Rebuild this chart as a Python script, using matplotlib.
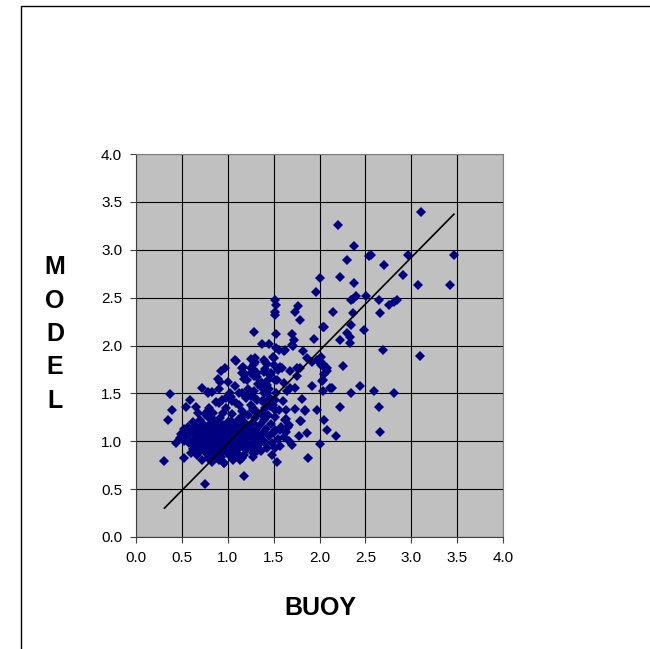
import matplotlib
matplotlib.use("Agg")
import matplotlib.pyplot as plt
from matplotlib.patches import Rectangle
import numpy as np

# scattered points (buoy, model) outside the main cloud
buoy_spread = [3.11, 2.20, 2.38, 2.54, 2.56, 2.96, 3.465, 2.30, 2.70, 2.91, 2.01, 2.22, 2.38, 3.07, 3.42,
               1.96, 2.34, 2.36, 2.40, 2.51, 2.65, 2.76, 2.81, 2.84, 2.66, 2.15, 2.37, 2.34, 2.48,
               1.52, 1.53, 1.52, 1.52, 1.77, 1.73, 1.79, 2.04, 2.05, 1.29, 1.53, 1.70, 1.72, 1.71, 1.94,
               2.22, 2.30, 2.33, 2.33, 1.37, 1.45, 1.53, 1.56, 1.61, 1.62, 1.82, 1.86, 1.92, 1.97, 2.02,
               2.04, 2.69, 3.09,
               1.08, 1.25, 1.30, 1.41, 1.40, 1.49, 1.50, 1.55, 1.57, 1.68, 1.75, 2.08, 2.05, 2.26, 0.97,
               0.93, 0.89, 1.00, 1.16, 1.19, 1.21, 1.28, 1.29, 1.37, 1.44, 1.61, 2.04, 1.92, 2.04, 2.11,
               2.14, 2.44, 2.59, 2.34, 2.81, 0.72, 0.78, 0.91, 0.37, 0.59, 0.55, 0.65, 0.39, 0.35, 1.81,
               1.64, 1.73, 1.97, 2.22, 2.65, 1.80, 2.05, 2.08, 2.18, 1.86, 1.78, 2.66, 2.01, 1.87, 1.54,
               1.18, 0.75, 0.31, 0.52, 0.44, 0.49]
model_spread = [3.39, 3.26, 3.04, 2.93, 2.95, 2.95, 2.95, 2.89, 2.84, 2.74, 2.70, 2.72, 2.65, 2.63, 2.63,
                2.56, 2.48, 2.49, 2.52, 2.52, 2.48, 2.42, 2.45, 2.48, 2.34, 2.35, 2.34, 2.21, 2.16,
                2.47, 2.42, 2.35, 2.32, 2.41, 2.35, 2.27, 2.19, 2.19, 2.14, 2.12, 2.12, 2.06, 2.00, 2.07,
                2.06, 2.13, 2.03, 2.09, 2.02, 2.02, 1.97, 1.95, 1.94, 1.95, 1.94, 1.87, 1.83, 1.85, 1.88,
                1.81, 1.95, 1.89,
                1.85, 1.86, 1.83, 1.83, 1.85, 1.88, 1.80, 1.74, 1.78, 1.73, 1.77, 1.76, 1.70, 1.79, 1.76,
                1.73, 1.65, 1.62, 1.77, 1.70, 1.64, 1.72, 1.68, 1.61, 1.64, 1.61, 1.64, 1.58, 1.53, 1.56,
                1.56, 1.58, 1.53, 1.50, 1.50, 1.56, 1.51, 1.55, 1.49, 1.43, 1.36, 1.36, 1.33, 1.22, 1.44,
                1.33, 1.34, 1.33, 1.36, 1.36, 1.21, 1.22, 1.12, 1.06, 1.09, 1.05, 1.10, 0.97, 0.82, 0.78,
                0.64, 0.55, 0.79, 0.83, 0.98, 1.08]

# points in the middle band between 1.0 and 2.1 m
buoy_mid = [1.09, 1.17, 1.25, 1.29, 1.43, 0.92, 1.08, 1.16, 1.18, 1.25, 1.32, 1.39, 1.47, 1.52, 0.79,
            0.83, 0.79, 0.87, 0.94, 1.03, 1.12, 1.21, 1.29, 1.36, 1.43, 0.52, 0.56, 0.48, 0.90, 0.96,
            1.70, 2.02, 2.06, 2.08, 1.30, 1.50, 1.41, 1.46, 1.59, 1.79, 1.75, 1.28, 1.32, 1.36, 1.43,
            1.54, 1.68, 1.73, 2.03, 1.25, 1.32, 1.39, 1.46, 1.52, 1.84, 1.28, 1.36, 1.43, 1.64, 1.67,
            1.79, 1.49, 1.57, 1.64, 1.61, 1.67, 1.51, 1.57, 1.34, 1.41, 1.32, 1.28, 1.13, 1.48, 1.70,
            1.66, 1.52, 1.52, 1.84]
model_mid = [1.84, 1.78, 1.76, 1.81, 1.81, 1.62, 1.58, 1.71, 1.65, 1.71, 1.67, 1.72, 1.71, 1.64, 1.50,
             1.51, 1.32, 1.41, 1.43, 1.46, 1.50, 1.48, 1.53, 1.57, 1.50, 1.13, 1.08, 1.03, 0.82, 0.77,
             2.01, 1.80, 1.76, 1.73, 1.87, 1.87, 1.75, 1.69, 1.76, 1.76, 1.68, 1.75, 1.71, 1.61, 1.59,
             1.64, 1.56, 1.56, 1.63, 1.47, 1.43, 1.42, 1.37, 1.43, 1.32, 1.33, 1.28, 1.26, 1.23, 1.17,
             1.21, 1.09, 1.12, 1.10, 1.04, 1.00, 0.93, 0.95, 1.02, 0.98, 0.90, 0.84, 0.80, 0.86, 0.96,
             1.15, 1.12, 1.33, 1.33]

# dense cloud around 1 m
buoy_core = [0.55, 0.58, 0.60, 0.62, 0.63, 0.65, 0.66, 0.67, 0.68, 0.69, 0.70, 0.71, 0.72, 0.72, 0.73,
             0.74, 0.75, 0.76, 0.77, 0.78, 0.78, 0.79, 0.80, 0.80, 0.81, 0.82, 0.83, 0.83, 0.84, 0.85,
             0.86, 0.86, 0.87, 0.88, 0.88, 0.89, 0.90, 0.90, 0.91, 0.92, 0.92, 0.93, 0.94, 0.94, 0.95,
             0.96, 0.96, 0.97, 0.98, 0.98, 0.99, 1.00, 1.00, 1.01, 1.02, 1.03, 1.04, 1.04, 1.05, 1.06,
             1.07, 1.08, 1.08, 1.09, 1.10, 1.10, 1.11, 1.12, 1.13, 1.14, 1.15, 1.15, 1.16, 1.17, 1.18,
             1.19, 1.20, 1.21, 1.22, 1.23, 1.24, 1.25, 1.26, 1.27, 1.28, 1.29, 1.30, 1.31, 1.32, 1.33,
             1.34, 1.35, 1.36, 1.37, 1.38, 1.39, 1.40, 1.41, 1.42, 1.43, 1.44, 1.45, 1.46, 1.47, 1.48,
             1.49, 1.50, 1.52, 1.53, 1.55, 1.56, 1.58, 1.60, 1.62, 1.65, 1.45, 1.40, 1.30, 1.20, 1.12,
             1.05, 0.95, 0.90, 0.85, 0.80, 0.75, 0.70, 0.68, 0.62, 0.57, 0.52, 0.50, 0.60, 0.64, 1.00,
             1.06, 1.12, 1.18, 1.26, 1.34, 1.38, 1.27, 1.18, 1.22, 1.33, 1.15, 1.02, 0.98, 0.93, 0.83,
             0.66, 0.70, 0.73, 0.76, 0.79, 0.82, 0.85, 0.88, 0.91, 0.94, 0.97, 1.00, 1.03, 1.06, 1.09,
             1.12, 1.15, 1.18, 1.21, 1.24, 0.68, 0.72, 0.75, 0.79, 0.83, 0.87, 0.91, 0.95, 0.99, 1.03,
             1.07, 1.11, 1.14, 1.17, 1.20, 0.74, 0.80, 0.86, 0.92, 0.98, 1.04, 1.10, 0.64, 0.58, 0.62]
model_core = [1.05, 0.98, 1.12, 0.92, 1.02, 1.08, 0.86, 1.15, 0.97, 1.04, 0.90, 1.10, 1.00, 0.80, 1.18,
              0.94, 1.06, 0.88, 1.12, 0.99, 1.25, 0.83, 1.05, 0.93, 1.18, 1.02, 0.90, 1.10, 1.30, 0.97,
              1.07, 0.85, 1.20, 1.00, 0.92, 1.13, 1.04, 0.80, 0.96, 1.24, 1.09, 0.88, 1.01, 1.16, 0.93,
              1.06, 0.77, 1.11, 0.98, 1.35, 0.90, 1.03, 1.20, 0.95, 1.08, 0.85, 1.14, 1.00, 1.28, 0.92,
              1.05, 1.18, 0.97, 1.40, 1.10, 0.88, 1.02, 1.23, 0.94, 1.15, 1.06, 0.82, 1.32, 0.99, 1.20,
              1.10, 0.91, 1.03, 1.27, 1.14, 0.96, 1.38, 1.08, 1.19, 0.88, 1.01, 1.24, 1.12, 0.95, 1.30,
              1.05, 1.17, 0.90, 1.42, 1.09, 1.22, 1.00, 1.35, 1.13, 0.93, 1.27, 1.05, 1.45, 1.18, 0.98,
              1.38, 1.10, 1.25, 1.50, 1.02, 1.33, 1.15, 1.42, 1.22, 1.52, 1.55, 1.50, 1.45, 1.45, 1.38,
              1.42, 1.30, 1.40, 1.22, 1.35, 1.28, 1.22, 1.30, 1.20, 1.15, 1.00, 1.05, 0.88, 0.95, 0.87,
              0.80, 0.96, 0.86, 0.93, 0.97, 1.28, 1.35, 1.28, 1.55, 1.60, 1.50, 1.50, 1.45, 0.84, 0.78,
              1.01, 1.07, 0.96, 1.03, 1.09, 0.97, 1.14, 1.06, 0.99, 1.05, 1.02, 0.96, 1.11, 1.00, 1.06,
              0.98, 1.09, 1.02, 0.95, 1.08, 0.93, 1.12, 0.90, 1.15, 0.87, 1.07, 0.89, 1.17, 0.92, 1.21,
              0.94, 1.13, 1.24, 0.99, 1.04, 1.08, 0.95, 1.03, 0.91, 1.16, 1.19, 0.86, 0.99, 1.08, 1.01]

# trendline coefficients
trend_slope = 0.973
trend_intercept = 0.0

x_ticks = [0.0, 0.5, 1.0, 1.5, 2.0, 2.5, 3.0, 3.5, 4.0]
y_ticks = [0.0, 0.5, 1.0, 1.5, 2.0, 2.5, 3.0, 3.5, 4.0]

buoy = np.array(buoy_spread + buoy_mid + buoy_core)
model = np.array(model_spread + model_mid + model_core)

plt.rcParams['font.family'] = ['Liberation Sans', 'DejaVu Sans']

fig = plt.figure(figsize=(6.5, 6.49), dpi=100)
fig.patch.set_facecolor('white')

# outer frame (top and left edges visible)
fig.patches.append(Rectangle((21 / 650, -0.1), 1.2, (649 - 6) / 649 + 0.1,
                             transform=fig.transFigure, fill=False,
                             edgecolor='black', linewidth=1.0))

ax = fig.add_axes([136 / 650, (649 - 537) / 649, 367 / 650, 383 / 649])
ax.set_facecolor('#c0c0c0')
ax.set_xlim(0, 4)
ax.set_ylim(0, 4)
ax.set_xticks(x_ticks)
ax.set_yticks(y_ticks)
ax.set_xticklabels([f"{t:.1f}" for t in x_ticks])
ax.set_yticklabels([f"{t:.1f}" for t in y_ticks])
ax.grid(True, color='black', linewidth=0.8)
ax.set_axisbelow(True)
for side in ['top', 'right']:
    ax.spines[side].set_color('#808080')
    ax.spines[side].set_linewidth(0.8)
for side in ['left', 'bottom']:
    ax.spines[side].set_color('#404040')
    ax.spines[side].set_linewidth(0.8)
ax.tick_params(direction='out', length=4, width=0.8, color='#404040',
               labelsize=11, pad=6)

ax.plot(buoy, model, linestyle='none', marker='D', markersize=4.6,
        color='#000080', markeredgewidth=0)

# trendline over the data range
tx = np.array([buoy.min(), buoy.max()])
ax.plot(tx, trend_slope * tx + trend_intercept, color='black', linewidth=1.2)

fig.text(320 / 650, 1 - 608 / 649, 'BUOY', ha='center', va='center',
         fontsize=18, fontweight='bold')
fig.text(55 / 650, 1 - 334 / 649, 'M\nO\nD\nE\nL', ha='center', va='center',
         fontsize=18, fontweight='bold', linespacing=1.5)

fig.savefig('out.png', dpi=100)
